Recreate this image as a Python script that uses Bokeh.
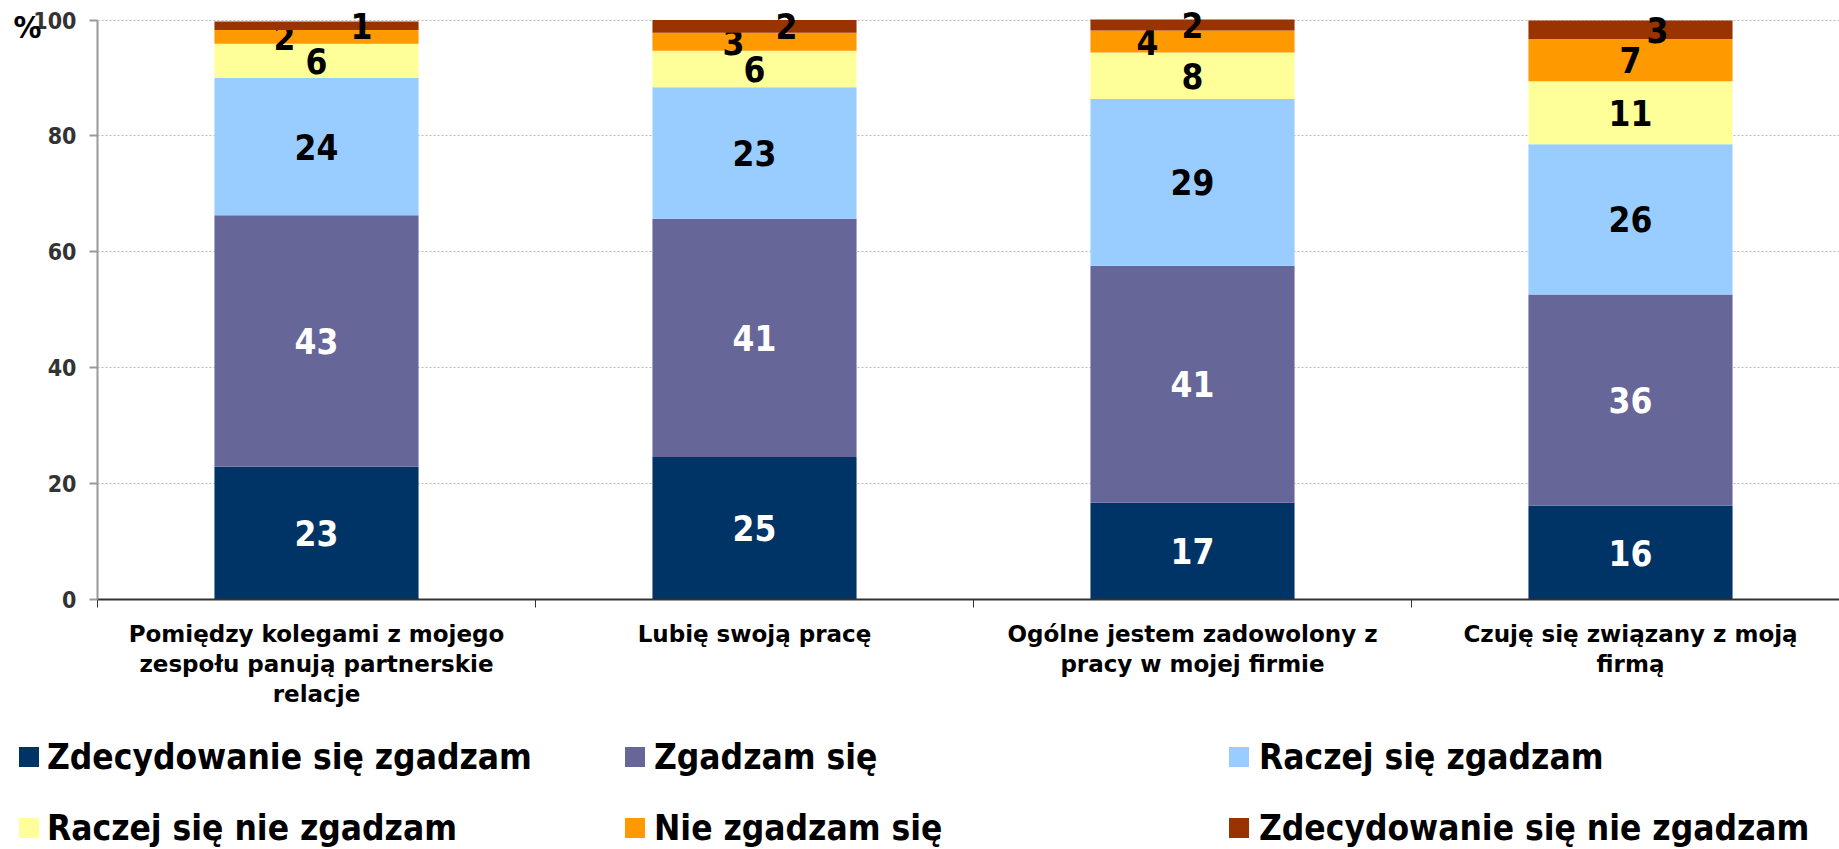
from bokeh.plotting import figure
from bokeh.models import Range1d, FixedTicker, ColumnDataSource, LinearAxis, Div
from bokeh.layouts import column
from bokeh.embed import file_html
from bokeh.resources import INLINE
from bokeh.core.properties import value

# ---------------- data ----------------
categories = [
    "Pomiędzy kolegami z mojego\nzespołu panują partnerskie\nrelacje",
    "Lubię swoją pracę",
    "Ogólne jestem zadowolony z\npracy w mojej firmie",
    "Czuję się związany z moją\nfirmą",
]
series = [
    "Zdecydowanie się zgadzam",
    "Zgadzam się",
    "Raczej się zgadzam",
    "Raczej się nie zgadzam",
    "Nie zgadzam się",
    "Zdecydowanie się nie zgadzam",
]
zdecydowanie_zgadzam = [22.9, 24.6, 16.7, 16.2]
zgadzam = [43.4, 41.1, 40.9, 36.45]
raczej_zgadzam = [23.7, 22.7, 28.8, 25.9]
raczej_nie_zgadzam = [5.9, 6.3, 8.0, 10.9]
nie_zgadzam = [2.4, 3.1, 3.8, 7.3]
zdecydowanie_nie_zgadzam = [1.45, 2.2, 1.9, 3.2]
y_ticks = [0, 20, 40, 60, 80, 100]
unit_label = "%"

values = [zdecydowanie_zgadzam, zgadzam, raczej_zgadzam,
          raczej_nie_zgadzam, nie_zgadzam, zdecydowanie_nie_zgadzam]

# ---------------- style ----------------
colors = ["#003366", "#666699", "#99CCFF", "#FFFF99", "#FF9900", "#993300"]
label_colors = ["white", "white", "black", "black", "black", "black"]
# horizontal nudges (px) of the data labels of the two thin top segments
label_dx = [
    [0, 0, 0, 0],
    [0, 0, 0, 0],
    [0, 0, 0, 0],
    [0, 0, 0, 0],
    [-32, -21, -45, 0],
    [45, 32, 0, 27],
]
FONT = "DejaVu Sans"
FONT_C = "DejaVu Sans Condensed"
W = 1839
H_MAIN = 724
H_LEG = 125
BAR_W = 0.466
FRAME_LEFT = 97
CAT_STEP = 438  # px per category
UNIT_LABEL_Y = 98.8  # height at which the unit label sits

x_centers = [i + 0.5 for i in range(len(categories))]

p = figure(width=W, height=H_MAIN, x_range=Range1d(0, (W - FRAME_LEFT) / CAT_STEP),
           y_range=Range1d(0, 102), output_backend="svg", toolbar_location=None,
           min_border_left=FRAME_LEFT, min_border_right=0, min_border_top=8,
           min_border_bottom=125)
p.outline_line_color = None
p.background_fill_color = "white"

bottoms = [0.0] * len(categories)
for s, vals in enumerate(values):
    tops = [b + v for b, v in zip(bottoms, vals)]
    src = ColumnDataSource(dict(
        x=x_centers, bottom=list(bottoms), top=tops,
        ymid=[(b + t) / 2 for b, t in zip(bottoms, tops)],
        txt=[str(round(v)) for v in vals],
        dx=label_dx[s],
    ))
    p.vbar(x="x", bottom="bottom", top="top", width=BAR_W, source=src,
           fill_color=colors[s], line_color=None)
    p.text(x="x", y="ymid", text="txt", x_offset="dx", source=src,
           text_font=value(FONT_C), text_font_style="bold", text_font_size="35px",
           text_color=label_colors[s], text_align="center", text_baseline="middle")
    bottoms = tops

# y axis
p.yaxis.ticker = FixedTicker(ticks=y_ticks)
p.yaxis.bounds = (0, 100)
p.yaxis.axis_line_color = "#999999"
p.yaxis.axis_line_width = 2
p.yaxis.major_tick_line_color = "#999999"
p.yaxis.major_tick_line_width = 2
p.yaxis.major_tick_out = 8
p.yaxis.major_tick_in = 0
p.yaxis.minor_tick_line_color = None
p.yaxis.major_label_text_font = FONT_C
p.yaxis.major_label_text_font_style = "bold"
p.yaxis.major_label_text_font_size = "23px"
p.yaxis.major_label_text_color = "#333333"
p.yaxis.major_label_standoff = 13

# unit label "%" : an extra, line-less axis outside the value axis
unit_axis = LinearAxis(ticker=FixedTicker(ticks=[UNIT_LABEL_Y]),
                       major_label_overrides={UNIT_LABEL_Y: unit_label},
                       axis_line_color=None, major_tick_line_color=None,
                       minor_tick_line_color=None, major_tick_out=0, major_tick_in=0,
                       major_label_standoff=-11,
                       major_label_text_font=FONT_C, major_label_text_font_style="bold",
                       major_label_text_font_size="31px", major_label_text_color="black")
p.add_layout(unit_axis, "left")

# x axis
p.xaxis.ticker = FixedTicker(ticks=x_centers, minor_ticks=list(range(len(categories) + 1)))
p.xaxis.major_label_overrides = {x: c for x, c in zip(x_centers, categories)}
p.xaxis.axis_line_color = "#333333"
p.xaxis.axis_line_width = 2
p.xaxis.major_tick_line_color = None
p.xaxis.minor_tick_line_color = "#333333"
p.xaxis.minor_tick_out = 8
p.xaxis.minor_tick_in = 0
p.xaxis.major_label_text_font = FONT
p.xaxis.major_label_text_font_style = "bold"
p.xaxis.major_label_text_font_size = "23px"
p.xaxis.major_label_text_color = "black"
p.xaxis.major_label_text_line_height = 1.16
p.xaxis.major_label_standoff = 13

p.xgrid.grid_line_color = None
p.ygrid.grid_line_color = "#BBBBBB"
p.ygrid.grid_line_dash = "2 2"
p.ygrid.grid_line_width = 1

# ---------------- legend (HTML block under the chart) ----------------
col_sq = [19, 625, 1229]
col_tx = [47, 654, 1259]
row_y = [33, 104]
ncol = 3
parts = []
for i, (name, color) in enumerate(zip(series, colors)):
    cx = col_sq[i % ncol]
    tx = col_tx[i % ncol]
    ry = row_y[i // ncol]
    parts.append(
        f'<div style="position:absolute;left:{cx}px;top:{ry - 10}px;width:20px;'
        f'height:20px;background:{color};"></div>'
    )
    parts.append(
        f'<div style="position:absolute;left:{tx}px;top:{ry - 21}px;height:42px;'
        f'line-height:42px;white-space:nowrap;font-family:\'{FONT_C}\',\'{FONT}\';'
        f'font-weight:bold;font-size:35px;color:black;">{name}</div>'
    )
legend_html = (f'<div style="position:relative;width:{W}px;height:{H_LEG}px;'
               f'overflow:hidden;background:white;">' + "".join(parts) + '</div>')
leg = Div(text=legend_html, width=W, height=H_LEG, margin=(0, 0, 0, 0))

layout = column(p, leg, spacing=0)
open("out.html", "w").write(file_html(layout, INLINE))
